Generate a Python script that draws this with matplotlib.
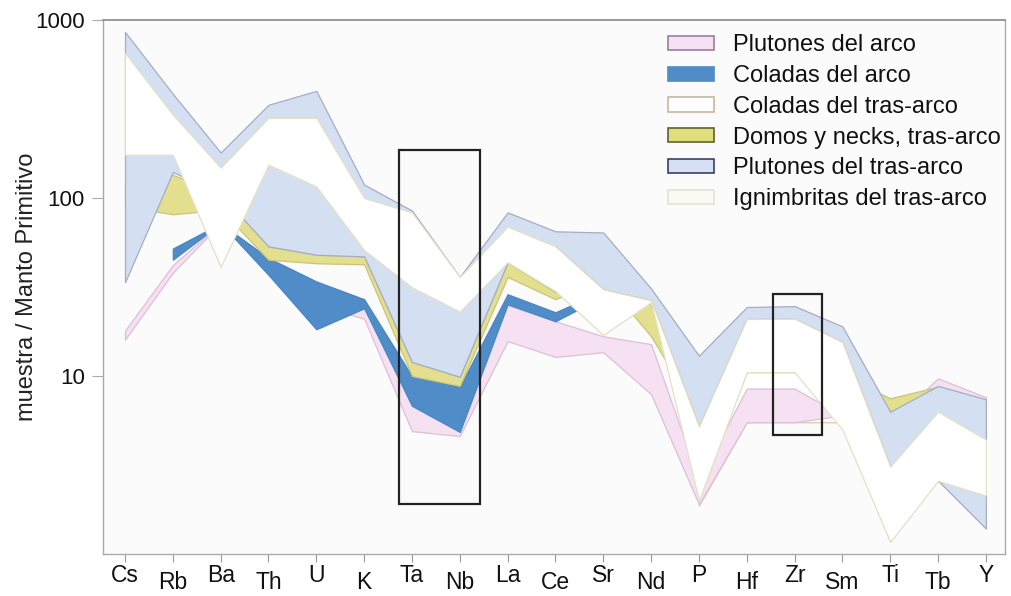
import numpy as np
import matplotlib
matplotlib.use("Agg")
import matplotlib.pyplot as plt
from matplotlib.patches import Patch, Rectangle
from matplotlib.ticker import NullLocator
from matplotlib.transforms import ScaledTranslation

plt.rcParams['font.family'] = ['Liberation Sans', 'DejaVu Sans']

nan = np.nan
elements = ['Cs', 'Rb', 'Ba', 'Th', 'U', 'K', 'Ta', 'Nb', 'La', 'Ce', 'Sr', 'Nd',
            'P', 'Hf', 'Zr', 'Sm', 'Ti', 'Tb', 'Y']

# upper / lower envelopes of each field (sample / primitive mantle)
coladas_tras_hi = [nan, nan, nan, nan, nan, nan, nan, nan, nan, nan, nan, nan, 2.2, 10.5, 10.5, 6.5, 1.3, nan, nan]
coladas_tras_lo = [nan, nan, nan, nan, nan, nan, nan, nan, nan, nan, nan, nan, 1.87, 5.5, 5.5, 5.5, 1.17, nan, nan]

plutones_arco_hi = [18, 42, 72, 44, 30, 26, 7.0, 5.5, 25, 20.3, 16.7, 15.1, 2.6, 8.5, 8.5, 6.0, 5.5, 9.7, 7.6]
plutones_arco_lo = [16, 38, 72, 40, 25, 21, 4.9, 4.6, 15.7, 12.8, 13.6, 7.9, 1.9, 5.5, 5.5, 6.0, 4.0, 7.0, 6.0]

coladas_arco_hi = [nan, 52, 72, 46, 34, 27, 10, 8.7, 28.8, 22.8, 30, nan, nan, nan, nan, nan, nan, nan, nan]
coladas_arco_lo = [nan, 45, 72, 37, 18.3, 24, 6.8, 4.85, 25.3, 20.3, 28, nan, nan, nan, nan, nan, nan, nan, nan]

domos_hi = [120, 135, 105, 53.5, 48, 47, 12, 9.9, 43.5, 29.5, 40, 25, 8, 22, 22, 10, 7.5, 8.7, 7.2]
domos_lo = [90, 81, 86, 45, 43, 42.4, 10, 8.8, 36, 27, 35, 16.7, 6, 21, 21.5, 9, 6.3, 8.0, 6.5]

plutones_tras_hi = [857, 385, 180, 334, 400, 119, 85, 36, 83, 65, 64, 31, 13, 24.4, 24.7, 19, 6.3, 8.8, 7.4]
plutones_tras_lo = [33.6, 140, 105, 53.5, 48, 47, 12, 9.9, 43.5, 53.5, 30.7, 26.6, 5.2, 20.9, 21, 15.5, 3.1, 2.58, 1.39]

ignimbritas_hi = [653, 294, 148, 282, 282, 100, 83, 36, 69, 53.5, 30.7, 26.6, 5.2, 20.9, 21, 15.5, 3.1, 6.3, 4.4]
ignimbritas_lo = [175, 175, 41, 154, 116, 51, 31.5, 23, 43.5, 30, 17, 26, 2.0, 10.5, 10.5, 5.0, 1.17, 2.58, 2.13]

# highlighted boxes: (x from, x to) in element positions, (y from, y to)
box_ta_nb = ((5.73, 7.42), (1.92, 185))
box_zr = ((13.55, 14.57), (4.67, 28.8))

legend_labels = ['Plutones del arco', 'Coladas del arco', 'Coladas del tras-arco',
                 'Domos y necks, tras-arco', 'Plutones del tras-arco',
                 'Ignimbritas del tras-arco']

fig = plt.figure(figsize=(10.11, 5.96), dpi=100)
ax = fig.add_axes([103 / 1011, 42 / 596, 902 / 1011, 534 / 596])
ax.set_facecolor('#fbfbfb')
x = np.arange(len(elements))

layers = [
    (coladas_tras_lo, coladas_tras_hi, '#ffffff', '#d8ccae', 1),
    (plutones_arco_lo, plutones_arco_hi, '#f5e1f2', '#dcc0d8', 2),
    (coladas_arco_lo, coladas_arco_hi, '#4f8cc8', '#4a86c2', 3),
    (domos_lo, domos_hi, '#e4df8e', '#c9c47c', 4),
    (plutones_tras_lo, plutones_tras_hi, '#d4dff2', '#a3aec4', 5),
    (ignimbritas_lo, ignimbritas_hi, '#ffffff', '#e2e2c2', 6),
]
for lo, hi, fc, ec, z in layers:
    ax.fill_between(x, np.array(lo, float), np.array(hi, float), facecolor=fc,
                    edgecolor=ec, linewidth=0.9, zorder=z)

for (x0, x1), (y0, y1) in (box_ta_nb, box_zr):
    ax.add_patch(Rectangle((x0, y0), x1 - x0, y1 - y0, fill=False,
                           edgecolor='#222222', linewidth=1.6, zorder=10))

ax.set_yscale('log')
ax.set_ylim(1, 1000)
ax.set_xlim(-0.46, 18.4)
ax.set_yticks([10, 100, 1000])
ax.set_yticklabels(['10', '100', '1000'])
ax.yaxis.set_minor_locator(NullLocator())
ax.set_xticks(x)
ax.set_xticklabels(elements)
ax.tick_params(axis='x', length=6, width=0.8, color='#999999', pad=1.5,
               labelsize=16.5, labelcolor='#111111')
ax.tick_params(axis='y', length=8, width=0.8, color='#aaaaaa', pad=5,
               labelsize=16, labelcolor='#111111')
for i, lab in enumerate(ax.get_xticklabels()):
    if i % 2 == 1:
        lab.set_transform(lab.get_transform() +
                          ScaledTranslation(0, -7 / 100, fig.dpi_scale_trans))

for s in ['left', 'bottom', 'right']:
    ax.spines[s].set_color('#aaaaaa')
    ax.spines[s].set_linewidth(1.0)
ax.spines['top'].set_color('#888888')
ax.spines['top'].set_linewidth(1.2)

ax.set_ylabel('muestra / Manto Primitivo', fontsize=17, color='#222222')
ax.yaxis.set_label_coords(-0.072, 0.5)

handles = [
    Patch(facecolor='#f5dff2', edgecolor='#9a7f9a', linewidth=1.2),
    Patch(facecolor='#4f8cc8', edgecolor='#4f8cc8', linewidth=1.2),
    Patch(facecolor='#ffffff', edgecolor='#c8b89a', linewidth=1.2),
    Patch(facecolor='#dede7a', edgecolor='#5e6030', linewidth=1.2),
    Patch(facecolor='#d6e0f5', edgecolor='#3a3f6b', linewidth=1.2),
    Patch(facecolor='#fafaf2', edgecolor='#e4e4d4', linewidth=1.2),
]
leg = ax.legend(handles, legend_labels, loc='upper left', bbox_to_anchor=(0.626, 0.973),
                frameon=False, fontsize=17, handlelength=1.95, handleheight=0.55,
                labelspacing=0.37, handletextpad=0.8, borderpad=0, borderaxespad=0)
for t in leg.get_texts():
    t.set_color('#111111')
leg.set_zorder(20)

fig.savefig('out.png', dpi=100, facecolor='white')
